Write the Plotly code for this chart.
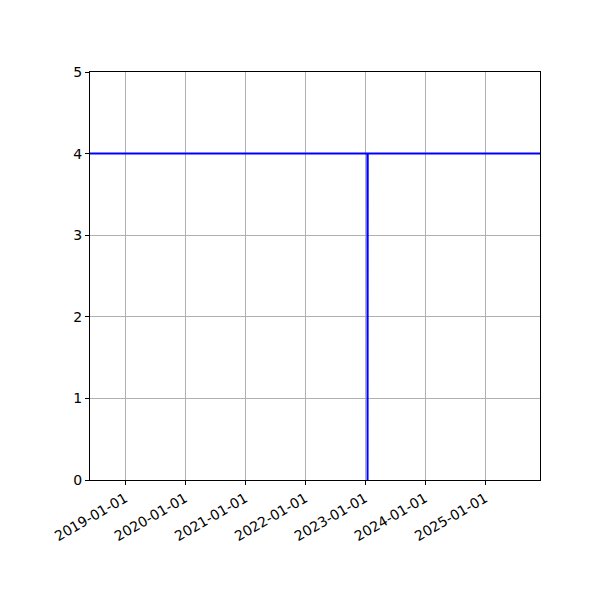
import plotly.graph_objects as go

dates = ["2018-06-01", "2023-01-15", "2023-01-16", "2023-01-17", "2025-12-01"]
values = [4, 4, 0, 4, 4]
tick_vals = ["2019-01-01", "2020-01-01", "2021-01-01", "2022-01-01",
             "2023-01-01", "2024-01-01", "2025-01-01"]

fig = go.Figure()
fig.add_trace(go.Scatter(x=dates, y=values, mode="lines",
                         line=dict(color="blue", width=2), showlegend=False))

fig.update_layout(
    width=600, height=600,
    margin=dict(l=82, r=68, t=64, b=128),
    plot_bgcolor="white", paper_bgcolor="white",
    font=dict(family="DejaVu Sans", size=14, color="black"),
)
fig.update_xaxes(
    range=["2018-06-01", "2025-12-01"],
    tickvals=tick_vals, ticktext=tick_vals, tickangle=-30,
    showgrid=True, gridcolor="#b0b0b0", gridwidth=1,
    showline=True, linecolor="black", linewidth=1, mirror=True,
    ticks="outside", ticklen=4, tickcolor="black", zeroline=False,
)
fig.update_yaxes(
    range=[0, 5], tickvals=[0, 1, 2, 3, 4, 5],
    showgrid=True, gridcolor="#b0b0b0", gridwidth=1,
    showline=True, linecolor="black", linewidth=1, mirror=True,
    ticks="outside", ticklen=4, tickcolor="black", zeroline=False,
)
fig.write_html("out.html")
